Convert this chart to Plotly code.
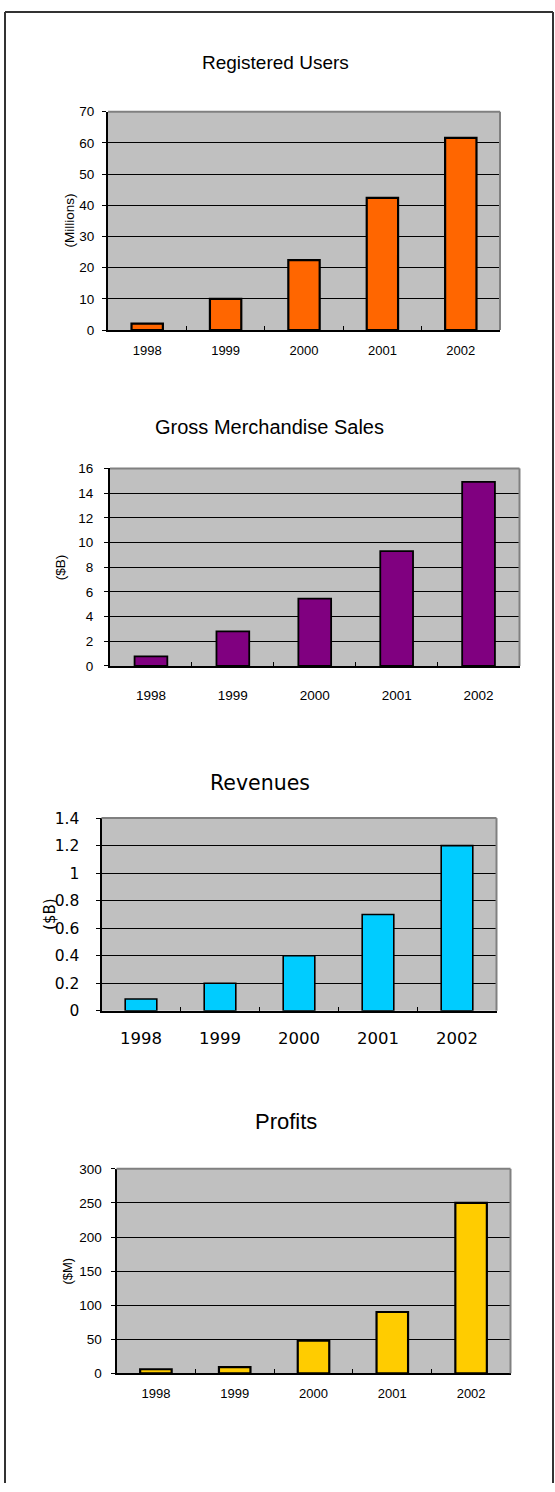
import plotly.graph_objects as go

# ---------------- data ----------------
years = ["1998", "1999", "2000", "2001", "2002"]
registered_users = [2.1, 10, 22.4, 42.4, 61.6]      # millions
gross_merch_sales = [0.78, 2.8, 5.45, 9.3, 14.9]    # $B
revenues = [0.086, 0.2, 0.4, 0.7, 1.2]              # $B
profits = [6, 9, 48, 90, 250]                       # $M

titles = ["Registered Users", "Gross Merchandise Sales", "Revenues", "Profits"]
y_titles = ["(Millions)", "($B)", "($B)", "($M)"]
y_ranges = [[0, 70], [0, 16], [0, 1.4], [0, 300]]
y_dticks = [10, 2, 0.2, 50]
series = [registered_users, gross_merch_sales, revenues, profits]
colors = ["#FF6600", "#800080", "#00CCFF", "#FFCC00"]

W, H = 555, 1492

# layout geometry in pixels (left, right, top, bottom of plot area)
boxes = [(108, 500, 104, 325), (110, 519.5, 465, 665),
         (101.5, 496.5, 819, 1014), (116.5, 510.5, 1174, 1381)]
title_pos = [(275, 54), (269, 423), (260, 783), (286, 1126)]
ytitle_pos = [(69, 214), (60, 565), (50, 916), (68, 1278)]
fonts = ["Liberation Sans, Arial, sans-serif"] * 2 + ["DejaVu Sans, sans-serif"] + ["Liberation Sans, Arial, sans-serif"]
title_sizes = [19, 20, 20.5, 22]
ytick_sizes = [13.5, 13.5, 15.5, 13.5]
xtick_sizes = [13, 13.5, 16.5, 13]
ytitle_sizes = [13.5, 13.5, 15, 13]
xstandoff = [7, 16, 11, 7]
ystandoff = [5, 8, 13, 6]
bar_lw = [2.2, 1.8, 1.6, 2.2]

fig = go.Figure()
annotations = []
shapes = []

for i in range(4):
    n = "" if i == 0 else str(i + 1)
    l, r, t, b = boxes[i]
    fig.add_trace(go.Bar(
        x=years, y=series[i], xaxis="x" + n, yaxis="y" + n,
        marker=dict(color=colors[i], line=dict(color="#000000", width=bar_lw[i])),
        showlegend=False, hoverinfo="x+y",
    ))
    fig.update_layout(**{
        "xaxis" + n: dict(
            domain=[l / W, r / W], anchor="y" + n, type="category",
            showline=True, linecolor="#000000", linewidth=2,
            ticks="inside", tickson="boundaries", ticklen=4, tickcolor="#000000", tickwidth=1,
            showgrid=False, zeroline=False, fixedrange=True,
            tickfont=dict(family=fonts[i], size=xtick_sizes[i], color="#000000"),
            ticklabelstandoff=xstandoff[i],
        ),
        "yaxis" + n: dict(
            domain=[1 - b / H, 1 - t / H], anchor="x" + n,
            range=y_ranges[i], dtick=y_dticks[i], tick0=0,
            showline=True, linecolor="#000000", linewidth=2,
            ticks="outside", ticklen=4, tickcolor="#000000", tickwidth=1,
            showgrid=True, gridcolor="#000000", gridwidth=1,
            zeroline=False, fixedrange=True,
            tickfont=dict(family=fonts[i], size=ytick_sizes[i], color="#000000"),
            ticklabelstandoff=ystandoff[i],
        ),
    })
    # plot-area background (silver)
    shapes.append(dict(type="rect", xref="x" + n + " domain", yref="y" + n + " domain",
                       x0=0, x1=1, y0=0, y1=1, fillcolor="#C0C0C0",
                       line=dict(width=0), layer="below"))
    # grey top and right border
    shapes.append(dict(type="line", xref="x" + n + " domain", yref="y" + n + " domain",
                       x0=0, x1=1, y0=1, y1=1, line=dict(color="#808080", width=2)))
    shapes.append(dict(type="line", xref="x" + n + " domain", yref="y" + n + " domain",
                       x0=1, x1=1, y0=0, y1=1, line=dict(color="#808080", width=2)))
    tx, ty = title_pos[i]
    annotations.append(dict(text=titles[i], x=tx / W, y=1 - ty / H, xref="paper", yref="paper",
                            xanchor="center", yanchor="middle", showarrow=False,
                            font=dict(family=fonts[i], size=title_sizes[i], color="#000000")))
    yx, yy = ytitle_pos[i]
    annotations.append(dict(text=y_titles[i], x=yx / W, y=1 - yy / H, xref="paper", yref="paper",
                            xanchor="center", yanchor="middle", showarrow=False, textangle=-90,
                            font=dict(family=fonts[i], size=ytitle_sizes[i], color="#000000")))

# outer frame (left, top, right)
shapes.append(dict(type="line", xref="paper", yref="paper", x0=5 / W, x1=5 / W, y0=0, y1=1 - 3 / H,
                   line=dict(color="#333333", width=2)))
shapes.append(dict(type="line", xref="paper", yref="paper", x0=5 / W, x1=553 / W, y0=1 - 3 / H, y1=1 - 3 / H,
                   line=dict(color="#333333", width=2)))
shapes.append(dict(type="line", xref="paper", yref="paper", x0=553 / W, x1=553 / W, y0=0, y1=1 - 3 / H,
                   line=dict(color="#333333", width=2)))

fig.update_layout(
    width=W, height=H, margin=dict(l=0, r=0, t=0, b=0),
    paper_bgcolor="#FFFFFF", plot_bgcolor="rgba(0,0,0,0)",
    bargap=0.6, showlegend=False,
    annotations=annotations, shapes=shapes,
    font=dict(family="Liberation Sans, Arial, sans-serif", color="#000000"),
)

fig.write_html("out.html")
